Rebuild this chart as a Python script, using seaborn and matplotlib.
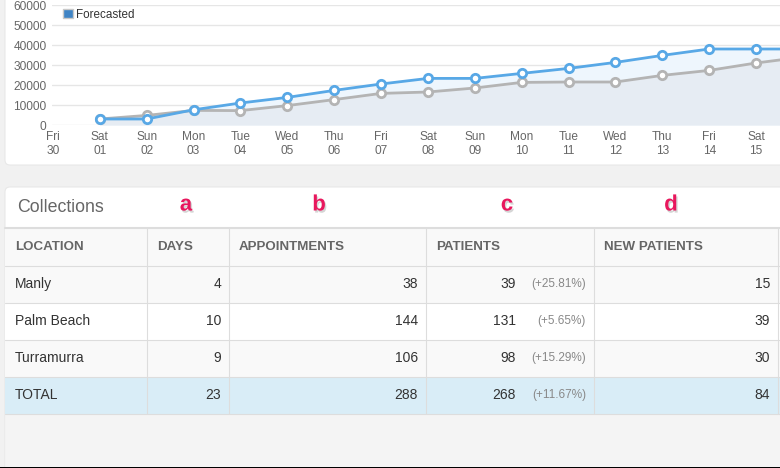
import numpy as np
import pandas as pd
import seaborn as sns
import matplotlib.pyplot as plt
import matplotlib.patheffects as pe
from matplotlib.patches import FancyBboxPatch, Rectangle, Patch

sns.set_theme(style="white")
plt.rcParams['font.family'] = ['Liberation Sans', 'DejaVu Sans']

# chart data (daily running totals)
day_labels = ['Fri\n30', 'Sat\n01', 'Sun\n02', 'Mon\n03', 'Tue\n04', 'Wed\n05', 'Thu\n06',
              'Fri\n07', 'Sat\n08', 'Sun\n09', 'Mon\n10', 'Tue\n11', 'Wed\n12', 'Thu\n13',
              'Fri\n14', 'Sat\n15', 'Sun\n16']
current = [np.nan, 3000, 3000, 7600, 11000, 13800, 17300, 20500, 23300, 23300,
           25800, 28300, 31300, 34800, 38000, 38000, 38000]
previous = [np.nan, 3000, 4800, 7300, 7200, 9700, 12700, 15800, 16500, 18500,
            21300, 21500, 21500, 24800, 27300, 31000, 34000]
y_ticks = [0, 10000, 20000, 30000, 40000, 50000, 60000]

# table data
headers = ['LOCATION', 'DAYS', 'APPOINTMENTS', 'PATIENTS', 'NEW PATIENTS']
col_letters = ['a', 'b', 'c', 'd']
locations = ['Manly', 'Palm Beach', 'Turramurra', 'TOTAL']
days = [4, 10, 9, 23]
appointments = [38, 144, 106, 288]
patients = [39, 131, 98, 268]
patients_change = ['(+25.81%)', '(+5.65%)', '(+15.29%)', '(+11.67%)']
new_patients = [15, 39, 30, 84]

BLUE = '#58a8e6'
GREY = '#b4b4b4'
W, H = 780, 468

fig = plt.figure(figsize=(7.8, 4.68), dpi=100)
fig.patch.set_facecolor('#f1f1f1')

# page axes in pixel coordinates for panels and the table
page = fig.add_axes([0, 0, 1, 1])
page.set_xlim(0, W)
page.set_ylim(H, 0)
page.axis('off')

page.add_patch(FancyBboxPatch((5, -10), 790, 175, boxstyle='round,pad=0,rounding_size=5',
                              fc='white', ec='#e8e8e8', lw=0.8))
page.add_patch(FancyBboxPatch((5, 187), 790, 300, boxstyle='round,pad=0,rounding_size=5',
                              fc='white', ec='#e8e8e8', lw=0.8))
page.add_patch(Rectangle((6, 413.5), 790, 60, fc='#f4f4f4', ec='none'))
page.add_patch(Rectangle((0, 466.5), W, 3, fc='black', ec='none'))

# table layout
col_edges = [5, 147, 229, 426, 594, 778]
row_edges = [228, 265.5, 302.5, 339.5, 376.5, 413.5]
row_bg = ['#f9f9f9', '#f9f9f9', '#ffffff', '#f9f9f9', '#d9edf7']

page.text(17, 207, 'Collections', fontsize=12.8, color='#666666', va='center', ha='left')
letter_x = [186, 319, 507, 671]
for lx, letter in zip(letter_x, col_letters):
    page.text(lx, 205, letter, fontsize=16, fontweight='bold', color='#e8175d',
              ha='center', va='center',
              path_effects=[pe.withSimplePatchShadow(offset=(1, -1.5), shadow_rgbFace='#888888', alpha=0.35)])

for i in range(len(row_edges) - 1):
    page.add_patch(Rectangle((5, row_edges[i]), 790, row_edges[i + 1] - row_edges[i],
                             fc=row_bg[i], ec='none'))
for y in row_edges:
    page.plot([5, 790], [y, y], color='#dddddd', lw=1.5 if y == row_edges[0] else 0.8)
for x in col_edges[1:]:
    page.plot([x, x], [row_edges[0], row_edges[-1]], color='#dddddd', lw=0.8)

hy = (row_edges[0] + row_edges[1]) / 2
for j, h in enumerate(headers):
    page.text(col_edges[j] + 10, hy, h, fontsize=9.6, fontweight='bold', color='#666666',
              ha='left', va='center')

for i, loc in enumerate(locations):
    cy = (row_edges[i + 1] + row_edges[i + 2]) / 2
    page.text(col_edges[0] + 10, cy, loc, fontsize=10, color='#333333', ha='left', va='center')
    page.text(col_edges[2] - 8, cy, str(days[i]), fontsize=10, color='#333333', ha='right', va='center')
    page.text(col_edges[3] - 8, cy, str(appointments[i]), fontsize=10, color='#333333', ha='right', va='center')
    page.text(col_edges[3] + 90, cy, str(patients[i]), fontsize=10, color='#333333', ha='right', va='center')
    page.text(col_edges[4] - 8, cy, patients_change[i], fontsize=8.5, color='#888888', ha='right', va='center')
    page.text(col_edges[5] - 8, cy, str(new_patients[i]), fontsize=10, color='#333333', ha='right', va='center')

# line chart
x0, step = 53, 46.87
ax = fig.add_axes([52 / W, 1 - 125 / H, (W - 52) / W, 120 / H])
ax.patch.set_visible(False)
idx = np.arange(len(day_labels))
df = pd.DataFrame({'day': idx, 'current': current, 'previous': previous})

ax.fill_between(idx, 0, df['current'], color='#eef6fd', lw=0, zorder=1)
ax.fill_between(idx, 0, df['previous'], color='#e6ecf3', lw=0, zorder=1)
sns.lineplot(data=df, x='day', y='previous', ax=ax, color=GREY, lw=2, marker='o', ms=6,
             markerfacecolor='white', markeredgecolor=GREY, markeredgewidth=2, zorder=3)
sns.lineplot(data=df, x='day', y='current', ax=ax, color=BLUE, lw=2, marker='o', ms=6,
             markerfacecolor='white', markeredgecolor=BLUE, markeredgewidth=2, zorder=4)

# only days inside the visible window get a tick label
right = (W - x0) / step
shown = [i for i in idx if i <= right]
ax.set_xlim(-1 / step, right)
ax.set_ylim(0, 60000)
ax.set_xticks(shown)
ax.set_xticklabels([day_labels[i] for i in shown])
ax.set_yticks(y_ticks)
ax.set_yticklabels([str(v) for v in y_ticks])
ax.set_xlabel('')
ax.set_ylabel('')
ax.tick_params(axis='both', length=0, labelsize=8.6, labelcolor='#666666')
ax.tick_params(axis='x', pad=4)
ax.tick_params(axis='y', pad=4)
ax.yaxis.grid(True, color='#e6e6e6', lw=1)
ax.xaxis.grid(False)
for s in ax.spines.values():
    s.set_visible(False)
for t in ax.get_xticklabels():
    t.set_linespacing(1.25)

ax.legend(handles=[Patch(facecolor='#3f84c5', edgecolor='#c8c8c8', label='Forecasted')],
          loc='upper left', bbox_to_anchor=(57 / W, 1 - 3 / H), bbox_transform=fig.transFigure,
          frameon=False, borderpad=0, handlelength=0.85, handleheight=0.85,
          handletextpad=0.25, fontsize=8.4, labelcolor='#333333')

fig.savefig('out.png', dpi=100)
